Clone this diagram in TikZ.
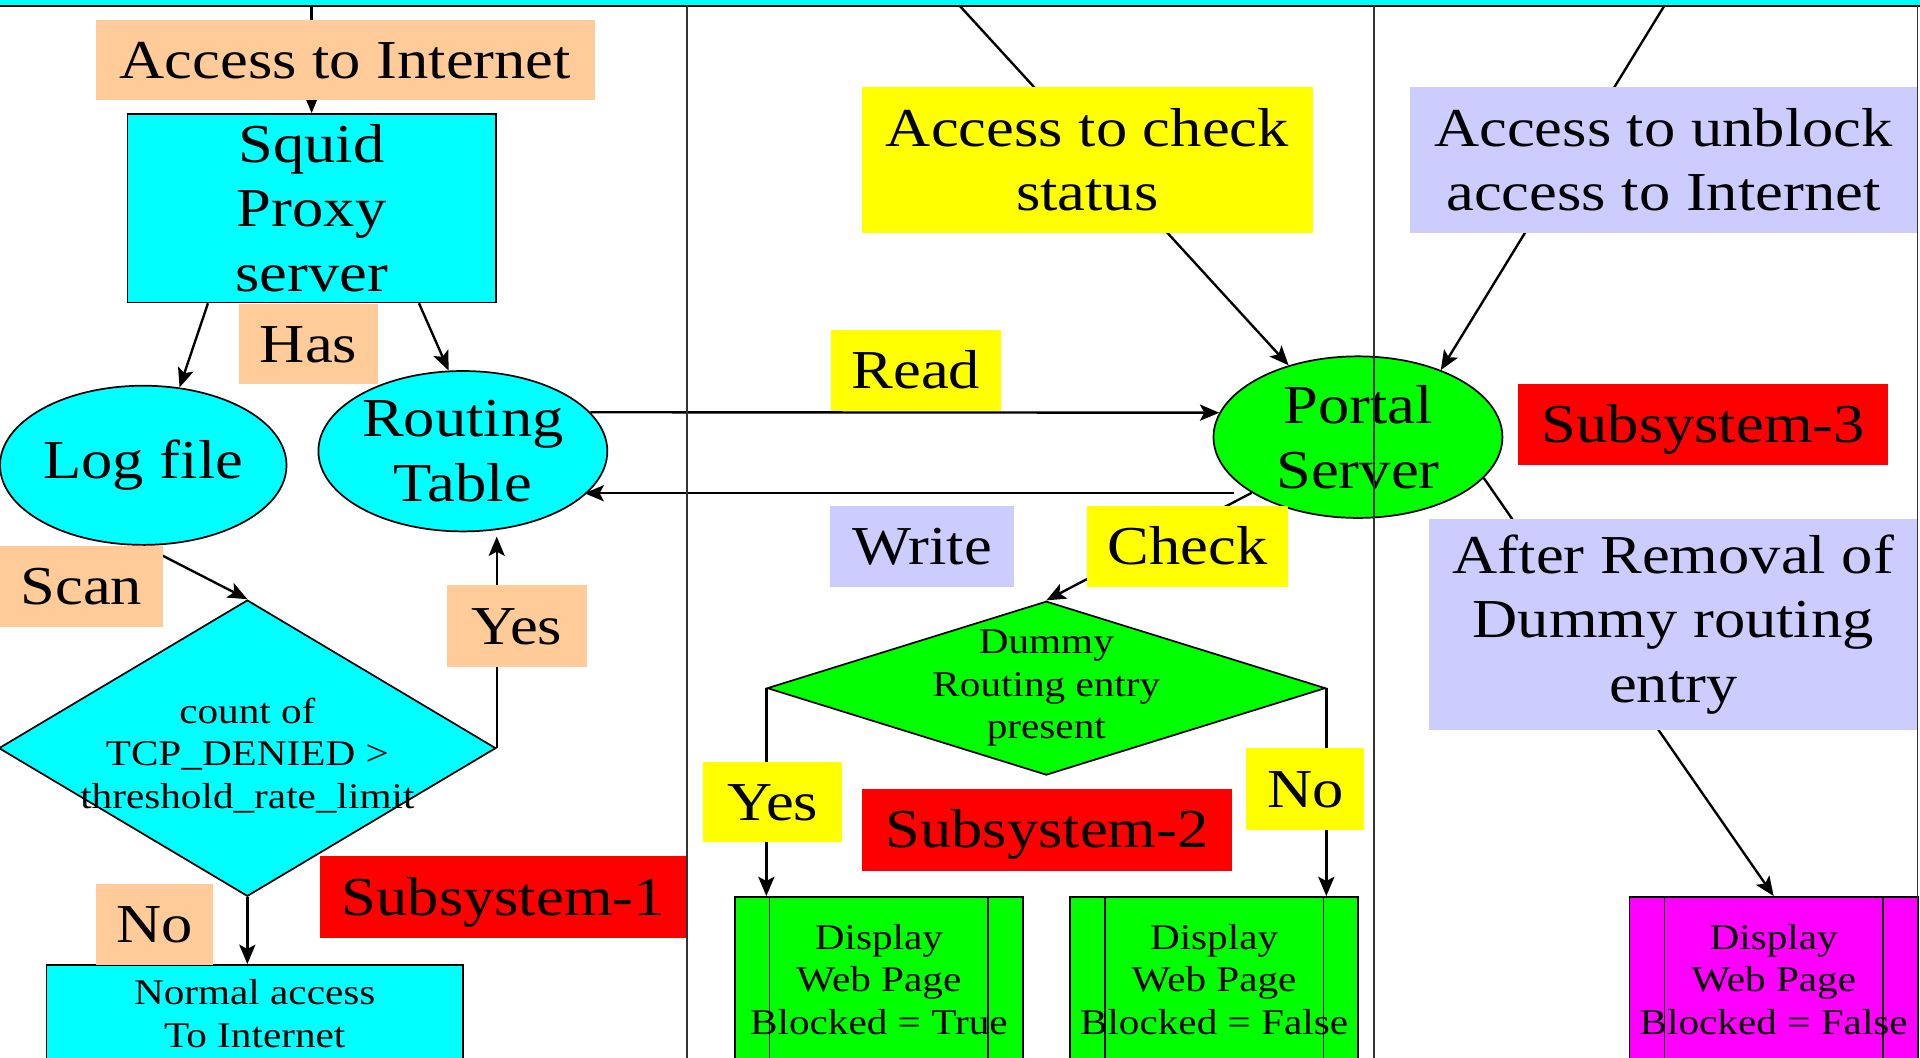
\documentclass[tikz,border=0pt]{standalone}
\usepackage{fontspec}
\setmainfont{Liberation Serif}[FakeStretch=1.14]
\usepackage{tikz}
\usetikzlibrary{
	shapes.geometric,
	arrows.meta,
	calc
}

\definecolor{peach}{HTML}{FFCC99}
\definecolor{lavender}{HTML}{CCCCFF}
\definecolor{aqua}{HTML}{00FFFF}
\definecolor{lime}{HTML}{00FF00}
\definecolor{fuchsia}{HTML}{FF00FF}
\definecolor{signred}{HTML}{FF0000}
\definecolor{signyellow}{HTML}{FFFF00}

\newcommand{\bigfont}{\fontsize{25.5}{30}\selectfont}
\newcommand{\smallfont}{\fontsize{16.8}{19.8}\selectfont}

\begin{document}
\begin{tikzpicture}[
				x=0.02cm, y=-0.02cm,
				tag/.style={
					rectangle, inner sep=0pt,
					align=center, font=\bigfont
				},
				oneline/.style={
					tag, text height=17pt, text depth=0pt
				},
				peachtag/.style={oneline, fill=peach},
				yellowtag/.style={oneline, fill=signyellow},
				bluetag/.style={oneline, fill=lavender},
				redtag/.style={oneline, fill=signred},
				part/.style={
					draw, line width=0.8pt, inner sep=0pt, align=center
				},
				store/.style={part, ellipse, font=\bigfont},
				proc/.style={part, rectangle, font=\bigfont},
				decision/.style={part, diamond},
				smalltext/.style={align=center, inner sep=0pt, font=\smallfont},
				screen/.style={
					part, rectangle, font=\smallfont,
					minimum width=4.71cm, minimum height=2.7cm,
					path picture={
						\draw[line width=0.8pt]
						([xshift=0.57cm]path picture bounding box.north west) -- ([xshift=0.57cm]path picture bounding box.south west)
						([xshift=-0.57cm]path picture bounding box.north east) -- ([xshift=-0.57cm]path picture bounding box.south east);
					}
				},
				arrow/.style={-{Stealth[length=9pt, width=7.5pt, inset=2pt]}, line width=1.1pt},
				divider/.style={line width=0.8pt, black!80},
				]
				
				\useasboundingbox (0,0) rectangle (1568,864);
				\clip (0,0) rectangle (1568,864);
				
				\node[part, fill=aqua, minimum width=32cm, minimum height=1cm] (topbar) at (784,-20) {};
				
				%subsystem 1
				\node[proc, fill=aqua, minimum width=6.02cm, minimum height=3.08cm] (squid) at (254.5,170) {Squid\\Proxy\\server};
				\node[store, fill=aqua, minimum width=4.68cm, minimum height=2.6cm] (logf) at (117,380) {Log file};
				\node[store, fill=aqua, minimum width=4.72cm, minimum height=2.62cm] (rt) at (378,368.5) {Routing\\Table};
				\node[decision, fill=aqua, minimum width=8.12cm, minimum height=4.84cm] (dec1) at (202,611) {};
				\node[smalltext, yshift=-0.12cm] (dec1txt) at (dec1) {count of\\TCP\_DENIED >\\threshold\_rate\_limit};
				\node[part, fill=aqua, font=\smallfont, minimum width=6.8cm, minimum height=1.6cm] (normal) at (208,828) {Normal access\\To Internet};
				
				%subsystem 2
				\node[store, fill=lime, minimum width=4.72cm, minimum height=2.64cm] (portal) at (1109,357) {Portal\\Server};
				\node[decision, fill=lime, minimum width=9.12cm, minimum height=2.84cm] (dec2) at (854.5,562) {};
				\node[smalltext] (dec2txt) at (dec2) {Dummy\\Routing entry\\present};
				\node[screen, fill=lime] (disp1) at (717.75,800) {Display\\Web Page\\Blocked = True};
				\node[screen, fill=lime] (disp2) at (991.5,800) {Display\\Web Page\\Blocked = False};
				
				%subsystem 3
				\node[screen, fill=fuchsia] (disp3) at (1448.5,800) {Display\\Web Page\\Blocked = False};
				
				%connectors
				\coordinate (chktop) at (784,5);
				\coordinate (unbtop) at (1359,5);
				\draw[arrow] (squid.north |- topbar.south) -- (squid.north);
				\draw[arrow] ($(squid.south west)!0.22!(squid.south east)$) -- (logf.65);
				\draw[arrow] ($(squid.south west)!0.79!(squid.south east)$) -- (rt.100);
				\draw[arrow] (logf.south) -- (dec1.north);
				\draw[arrow, shorten >=2pt] (dec1.east) -- (dec1.east |- rt.south);
				\draw[arrow] (dec1.south) -- (dec1.south |- normal.north);
				\draw[arrow] (rt.17) -- (portal.170);
				\draw[arrow] ([xshift=-0.3cm]portal.208) -- (portal.208 -| rt.-20);
				\draw[arrow] (portal) -- (dec2.north);
				\draw[arrow] (dec2.west) -- (dec2.west |- disp1.north);
				\draw[arrow] (dec2.east) -- (dec2.east |- disp2.north);
				\draw[arrow] (chktop) -- (portal.134);
				\draw[arrow] (unbtop) -- (portal.39);
				\draw[arrow] (portal.-18) -- (disp3.north);
				
				%labels
				\node[peachtag, minimum width=8.16cm, minimum height=1.32cm] (inet) at (282,49) {Access to Internet};
				\node[peachtag, minimum width=2.28cm, minimum height=1.32cm] (has) at (252,281) {Has};
				\node[peachtag, minimum width=2.66cm, minimum height=1.32cm] (scan) at (66.5,479) {Scan};
				\node[peachtag, minimum width=2.28cm, minimum height=1.34cm] (yes1) at (422,511.5) {Yes};
				\node[peachtag, minimum width=1.92cm, minimum height=1.32cm] (no1) at (126,755) {No};
				\node[redtag, minimum width=6.0cm, minimum height=1.34cm] (sub1) at (411,732.5) {Subsystem-1};
				
				\node[yellowtag, minimum width=2.78cm, minimum height=1.32cm] (read) at (748,302.5) {Read};
				\node[bluetag, minimum width=3.0cm, minimum height=1.32cm] (write) at (753,446) {Write};
				\node[yellowtag, minimum width=3.29cm, minimum height=1.32cm] (check) at (970,446) {Check};
				\node[yellowtag, minimum width=2.28cm, minimum height=1.32cm] (yes2) at (631,655) {Yes};
				\node[yellowtag, minimum width=1.93cm, minimum height=1.34cm] (no2) at (1066,644.5) {No};
				\node[redtag, minimum width=6.04cm, minimum height=1.34cm] (sub2) at (855,677.5) {Subsystem-2};
				\node[tag, fill=signyellow, minimum width=7.36cm, minimum height=2.38cm] (chkstat) at (888,130.5) {Access to check\\status};
				
				\node[tag, fill=lavender, minimum width=8.28cm, minimum height=2.38cm] (unblock) at (1358.5,130.5) {Access to unblock\\access to Internet};
				\node[redtag, minimum width=6.04cm, minimum height=1.32cm] (sub3) at (1391,346.7) {Subsystem-3};
				\node[tag, fill=lavender, minimum width=7.98cm, minimum height=3.44cm] (after) at (1366.5,510) {After Removal of\\Dummy routing\\entry};
				
				%dividers
				\foreach \xx in {561,1122,1566}
				\draw[divider] (\xx,5) -- (\xx,870);
\end{tikzpicture}
\end{document}
